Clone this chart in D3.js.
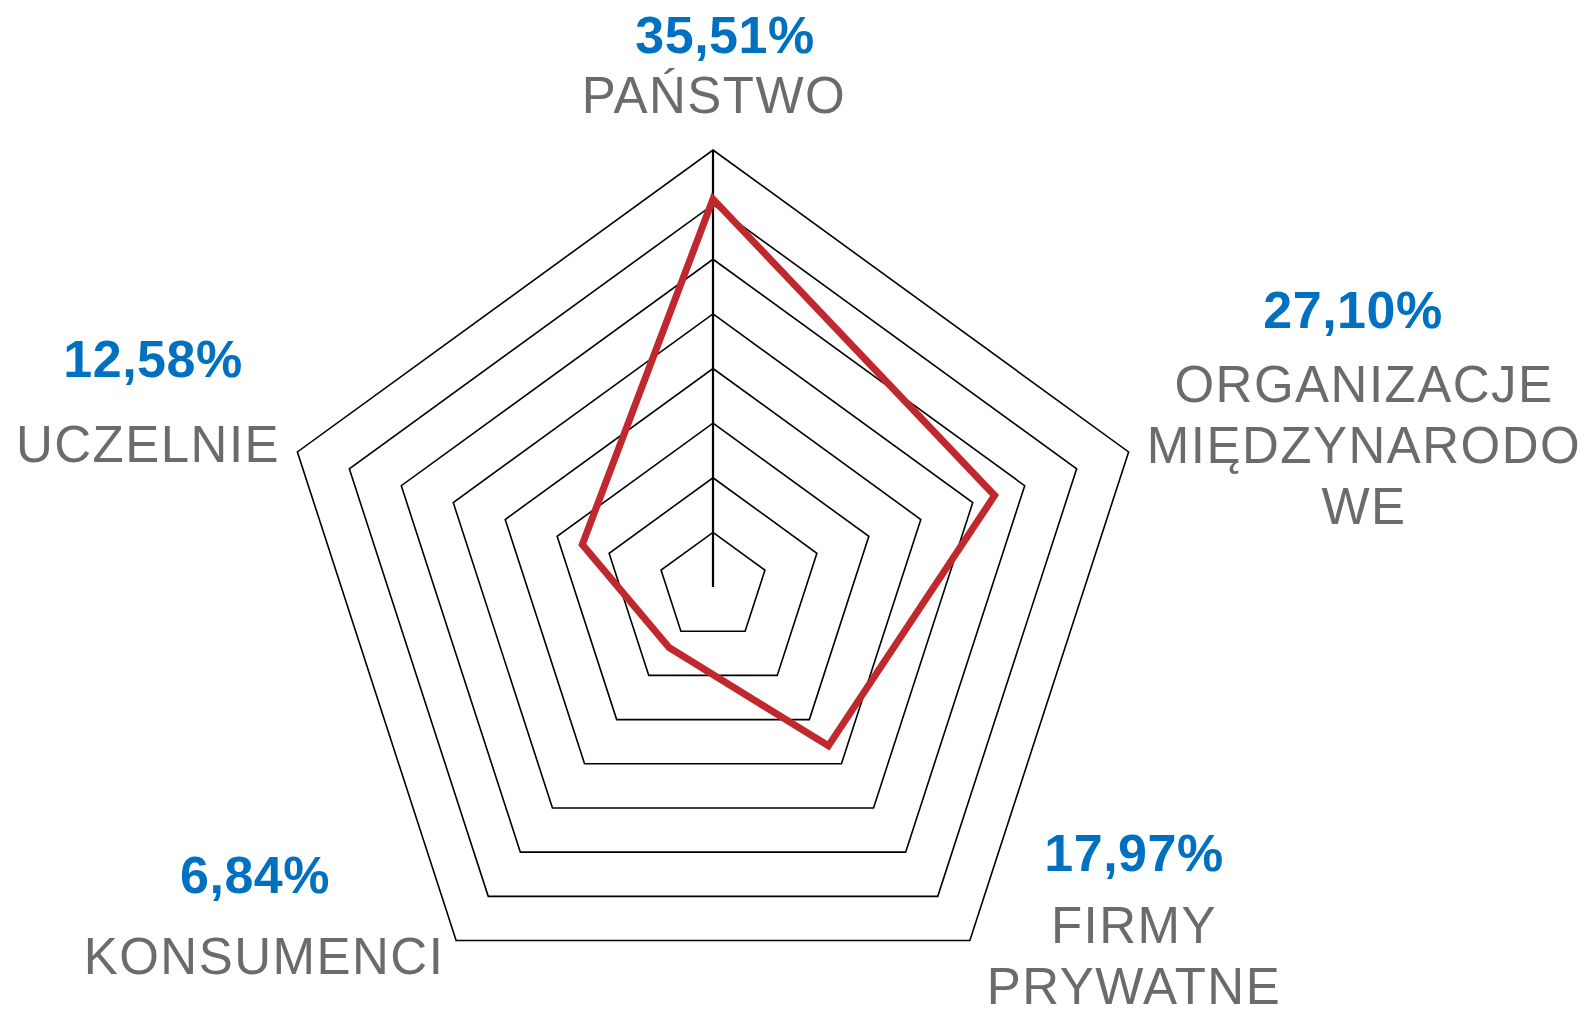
<!DOCTYPE html>
<html>
<head>
<meta charset="utf-8">
<script src="https://cdn.jsdelivr.net/npm/d3@7"></script>
<style>
  body { margin: 0; background: #fff; }
  svg { display: block; }
  text { font-family: "Liberation Sans", Arial, sans-serif; }
</style>
</head>
<body>
<svg width="1585" height="1009"></svg>
<script>
'use strict'

// data
const categories = [['PAŃSTWO'], ['ORGANIZACJE', 'MIĘDZYNARODO', 'WE'], ['FIRMY', 'PRYWATNE'], ['KONSUMENCI'], ['UCZELNIE']]
const values = [35.51, 27.10, 17.97, 6.84, 12.58]
const valueLabels = ['35,51%', '27,10%', '17,97%', '6,84%', '12,58%']
const ringTicks = [5, 10, 15, 20, 25, 30, 35, 40]

// layout
const cx = 713
const cy = 587
const radius = 437
// label blocks: centre x of the percentage, centre x of the name, baseline of the percentage
const pctX = [725, 1353, 1134, 255, 153]
const nameX = [714, 1364, 1134, 264, 148]
const pctY = [53, 328, 871, 893, 377]
const nameGap = [60, 74, 72, 81, 85]
const lineStep = 61

const svg = d3.select('svg')
const r = d3.scaleLinear().domain([0, 40]).range([0, radius])
const angle = (i) => i * 2 * Math.PI / categories.length
const point = (i, v) => [cx + r(v) * Math.sin(angle(i)), cy - r(v) * Math.cos(angle(i))]

const line = d3.line().curve(d3.curveLinearClosed)

// grid pentagons
svg.append('g').selectAll('path.ring').data(ringTicks)
  .enter()
  .append('path')
  .classed('ring', true)
  .attr('d', (t) => line(categories.map((c, i) => point(i, t))))
  .style('fill', 'none')
  .style('stroke', '#000')
  .style('stroke-width', 1.6)

// value axis (only the vertical one is shown)
svg.append('line')
  .attr('x1', cx).attr('y1', cy)
  .attr('x2', point(0, 40)[0]).attr('y2', point(0, 40)[1])
  .style('stroke', '#000')
  .style('stroke-width', 2.2)

// series
svg.append('path')
  .attr('d', line(values.map((v, i) => point(i, v))))
  .style('fill', 'none')
  .style('stroke', '#c0282d')
  .style('stroke-width', 7)
  .style('stroke-linejoin', 'miter')

// labels
const labels = svg.append('g').selectAll('g.label').data(categories)
  .enter()
  .append('g')
  .classed('label', true)

labels.append('text')
  .attr('x', (d, i) => pctX[i])
  .attr('y', (d, i) => pctY[i])
  .attr('text-anchor', 'middle')
  .style('font-size', '52px')
  .style('font-weight', 'bold')
  .style('letter-spacing', '0.5px')
  .style('fill', '#0070c0')
  .text((d, i) => valueLabels[i])

labels.each(function(d, i) {
  d3.select(this).selectAll('text.name').data(d)
    .enter()
    .append('text')
    .classed('name', true)
    .attr('x', nameX[i])
    .attr('y', (t, j) => pctY[i] + nameGap[i] + j * lineStep)
    .attr('text-anchor', 'middle')
    .style('font-size', '51px')
    .style('letter-spacing', '1.5px')
    .style('fill', '#6b6b6b')
    .text((t) => t)
})
</script>
</body>
</html>
